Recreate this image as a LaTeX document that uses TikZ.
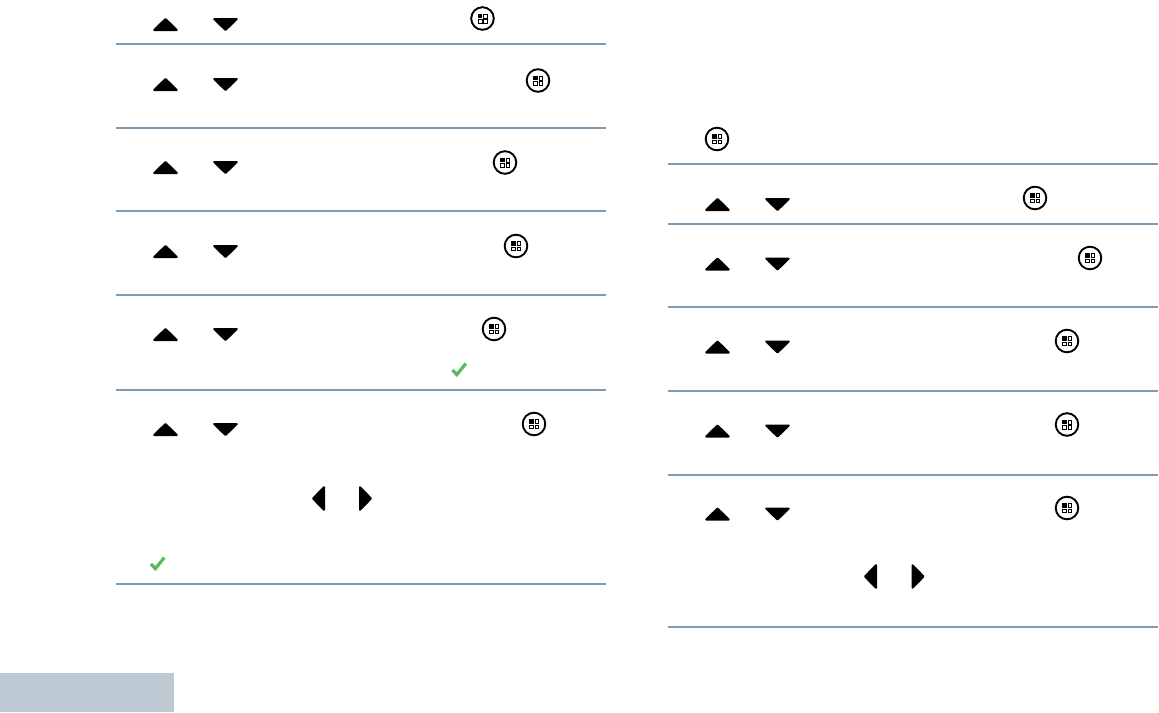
\documentclass[tikz,border=0pt]{standalone}
\definecolor{rulecol}{HTML}{7F9AB3}
\definecolor{bandcol}{HTML}{BDCAD4}
\definecolor{tickcol}{HTML}{5CB85C}
\begin{document}
\begin{tikzpicture}[
        x=1pt, y=-1pt,
        rulerow/.style={draw=rulecol,line width=1.5pt},
        keyfill/.style={fill=black,draw=black,line width=2pt,line join=round},
        upkey/.pic={\path[keyfill] (-11.3,5.5) -- (0,-5.5) -- (11.3,5.5) -- cycle;},
        downkey/.pic={\path[keyfill] (-11.3,-5.5) -- (11.3,-5.5) -- (0,5.5) -- cycle;},
        leftkey/.pic={\path[keyfill] (5.5,-11.3) -- (5.5,11.3) -- (-5.5,0) -- cycle;},
        rightkey/.pic={\path[keyfill] (-5.5,-11.3) -- (5.5,0) -- (-5.5,11.3) -- cycle;},
        menukey/.pic={
            \draw[line width=1.9pt] (0,0) circle (11.3);
            \fill (-4.8,-4.8) rectangle (-0.4,-0.4);
            \draw[line width=0.8pt] (0.9,-4.4) rectangle (4.6,-0.6)
                (-4.4,0.9) rectangle (-0.6,4.6)
                (0.9,0.9) rectangle (4.6,4.6);
        },
        tickmark/.pic={\draw[tickcol,line width=3.2pt] (-6.6,0) -- (-2.2,4.6) -- (6.8,-6.4);},
        ]
    \useasboundingbox (0,0) rectangle (1159,712);
    % left column
    \pic (upA) at (165.5,24.5) {upkey};   \pic (downA) at (225.5,24.5) {downkey};
    \pic (menuA) at (482.5,18.5) {menukey};
    \draw[rulerow] (116,44) -- (606,44);
    \pic (upB) at (165.5,84.5) {upkey};   \pic (downB) at (225.5,84.5) {downkey};
    \pic (menuB) at (538,80.5) {menukey};
    \draw[rulerow] (116,128) -- (606,128);
    \pic (upC) at (165.5,167.5) {upkey};  \pic (downC) at (225.5,167.5) {downkey};
    \pic (menuC) at (505,162.5) {menukey};
    \draw[rulerow] (116,211) -- (606,211);
    \pic (upD) at (165.5,251.5) {upkey};  \pic (downD) at (225.5,251.5) {downkey};
    \pic (menuD) at (516,246) {menukey};
    \draw[rulerow] (116,295) -- (606,295);
    \pic (upE) at (165.5,334.5) {upkey};  \pic (downE) at (225.5,334.5) {downkey};
    \pic (menuE) at (494,329) {menukey};
    \pic (tickE) at (459,370) {tickmark};
    \draw[rulerow] (116,390) -- (606,390);
    \pic (upF) at (165.5,429.5) {upkey};  \pic (downF) at (225.5,429.5) {downkey};
    \pic (menuF) at (534,424) {menukey};
    \pic (leftF) at (318.5,498.5) {leftkey};  \pic (rightF) at (365.5,498.5) {rightkey};
    \pic (tickF) at (157.5,564) {tickmark};
    \draw[rulerow] (116,584) -- (606,584);
    % right column
    \pic (menuG) at (717,139) {menukey};
    \draw[rulerow] (668,164) -- (1158,164);
    \pic (upH) at (717.5,204.5) {upkey};  \pic (downH) at (777.5,204.5) {downkey};
    \pic (menuH) at (1035,198) {menukey};
    \draw[rulerow] (668,224) -- (1158,224);
    \pic (upI) at (717.5,264) {upkey};    \pic (downI) at (777.5,264) {downkey};
    \pic (menuI) at (1090,258) {menukey};
    \draw[rulerow] (668,307) -- (1158,307);
    \pic (upJ) at (717.5,347) {upkey};    \pic (downJ) at (777.5,347) {downkey};
    \pic (menuJ) at (1067,341) {menukey};
    \draw[rulerow] (668,391) -- (1158,391);
    \pic (upK) at (717.5,431) {upkey};    \pic (downK) at (777.5,431) {downkey};
    \pic (menuK) at (1067,424.5) {menukey};
    \draw[rulerow] (668,475) -- (1158,475);
    \pic (upL) at (717.5,514) {upkey};    \pic (downL) at (777.5,514) {downkey};
    \pic (menuL) at (1067,508) {menukey};
    \pic (leftL) at (870.5,576.5) {leftkey};  \pic (rightL) at (918,576.5) {rightkey};
    \draw[rulerow] (668,627) -- (1158,627);
    % corner band
    \fill[bandcol] (0,673) rectangle (174,712);
\end{tikzpicture}
\end{document}
